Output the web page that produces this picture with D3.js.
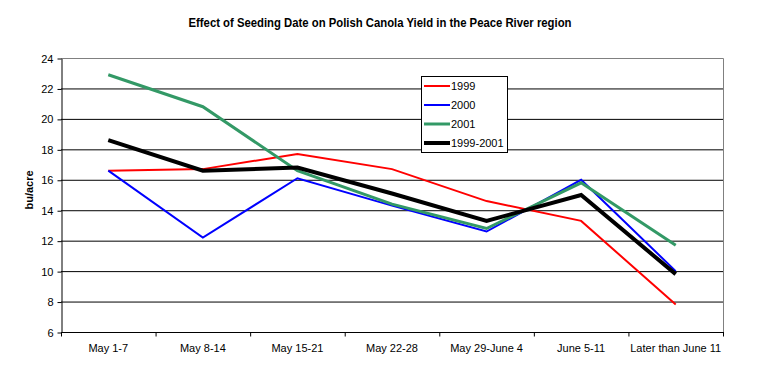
<!DOCTYPE html>
<html lang="en">
<head>
  <meta charset="UTF-8">
  <title>Effect of Seeding Date on Polish Canola Yield</title>
  <script src="https://d3js.org/d3.v7.min.js"></script>
  <style>
    body { margin: 0; background: #fff; }
    text { font-family: Arial, "Liberation Sans", sans-serif; }
  </style>
</head>
<body>
<script>
  // chart data
  const categories = ['May 1-7', 'May 8-14', 'May 15-21', 'May 22-28', 'May 29-June 4', 'June 5-11', 'Later than June 11'];
  const seriesNames = ['1999', '2000', '2001', '1999-2001'];
  const y1999 = [16.6, 16.7, 17.7, 16.7, 14.6, 13.3, 7.8];
  const y2000 = [16.6, 12.2, 16.1, 14.3, 12.6, 16.0, 10.0];
  const y2001 = [22.9, 20.8, 16.6, 14.4, 12.8, 15.8, 11.7];
  const yAvg = [18.6, 16.6, 16.8, 15.1, 13.3, 15.0, 9.8];
  const yTicks = [6, 8, 10, 12, 14, 16, 18, 20, 22, 24];

  const colors = ['#ff0000', '#0000ff', '#339966', '#000000'];
  const widths = [2, 2, 3, 4];
  const allSeries = [y1999, y2000, y2001, yAvg];

  const width = 762, height = 372;
  const plotL = 61, plotR = 723, plotT = 58, plotB = 332;

  const svg = d3.select('body').append('svg')
    .attr('width', width)
    .attr('height', height);

  const x = d3.scaleBand().domain(categories).range([plotL, plotR]);
  const y = d3.scaleLinear().domain([6, 24]).range([plotB, plotT]);

  // gridlines
  svg.append('g')
    .selectAll('line')
    .data(yTicks.filter(d => d > 6 && d < 24))
    .enter().append('line')
    .attr('x1', plotL).attr('x2', plotR)
    .attr('y1', d => y(d) + 0.5).attr('y2', d => y(d) + 0.5)
    .attr('stroke', '#000').attr('stroke-width', 1);

  // plot frame top / right in grey
  svg.append('path')
    .attr('d', `M${plotL},${plotT + 0.5}H${plotR + 0.5}V${plotB}`)
    .attr('fill', 'none').attr('stroke', '#808080').attr('stroke-width', 1);

  // y axis
  const yAxis = svg.append('g')
    .attr('transform', `translate(${plotL + 0.5},0.5)`)
    .call(d3.axisLeft(y).tickValues(yTicks).tickSize(4).tickSizeOuter(0));
  yAxis.select('.domain').attr('stroke', '#000');
  yAxis.selectAll('text').attr('font-size', 11).attr('font-family', 'Arial, sans-serif').attr('fill', '#000').attr('x', -8);

  // x axis with ticks between categories
  const xAxis = svg.append('g')
    .attr('transform', `translate(0,${plotB + 0.5})`);
  xAxis.append('line')
    .attr('x1', plotL).attr('x2', plotR + 1)
    .attr('stroke', '#000');
  xAxis.selectAll('line.tick')
    .data(d3.range(categories.length + 1))
    .enter().append('line')
    .attr('class', 'tick')
    .attr('x1', i => plotL + i * x.step() + 0.5)
    .attr('x2', i => plotL + i * x.step() + 0.5)
    .attr('y1', 0).attr('y2', 4)
    .attr('stroke', '#000');
  xAxis.selectAll('text')
    .data(categories)
    .enter().append('text')
    .attr('x', d => x(d) + x.bandwidth() / 2)
    .attr('y', 19)
    .attr('text-anchor', 'middle')
    .attr('font-size', 11)
    .text(d => d);

  // lines
  const line = d3.line()
    .x((d, i) => x(categories[i]) + x.bandwidth() / 2)
    .y(d => y(d));

  allSeries.forEach((s, k) => {
    svg.append('path')
      .datum(s)
      .attr('d', line)
      .attr('fill', 'none')
      .attr('stroke', colors[k])
      .attr('stroke-width', widths[k])
      .attr('stroke-linejoin', 'miter');
  });

  // title
  svg.append('text')
    .attr('x', 380).attr('y', 27)
    .attr('text-anchor', 'middle')
    .attr('font-size', 12)
    .attr('font-weight', 'bold')
    .attr('textLength', 383)
    .attr('lengthAdjust', 'spacingAndGlyphs')
    .text('Effect of Seeding Date on Polish Canola Yield in the Peace River region');

  // y label
  svg.append('text')
    .attr('transform', 'translate(33,190) rotate(-90)')
    .attr('text-anchor', 'middle')
    .attr('font-size', 11)
    .attr('font-weight', 'bold')
    .text('bu/acre');

  // legend
  const lg = svg.append('g');
  lg.append('rect')
    .attr('x', 421.5).attr('y', 76.5)
    .attr('width', 86).attr('height', 76)
    .attr('fill', '#fff').attr('stroke', '#000');
  seriesNames.forEach((name, k) => {
    const ly = 86 + k * 19;
    lg.append('line')
      .attr('x1', 424).attr('x2', 450)
      .attr('y1', ly).attr('y2', ly)
      .attr('stroke', colors[k]).attr('stroke-width', widths[k]);
    lg.append('text')
      .attr('x', 451).attr('y', ly + 4)
      .attr('font-size', 11)
      .text(name);
  });
</script>
</body>
</html>
